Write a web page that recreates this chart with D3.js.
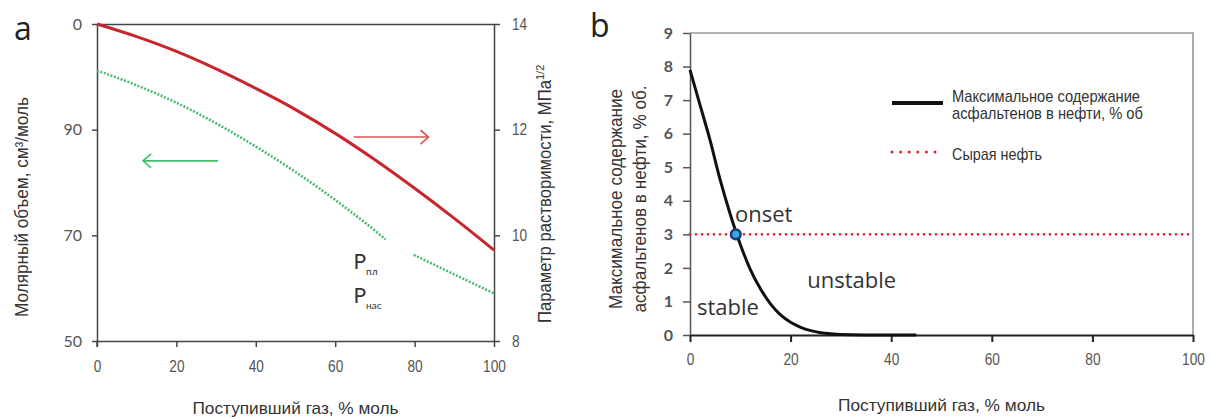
<!DOCTYPE html>
<html>
<head>
<meta charset="utf-8">
<script src="https://cdn.jsdelivr.net/npm/d3@7"></script>
<style>
  html, body { margin: 0; padding: 0; background: #fff; }
  svg { display: block; }
  .narrow { font-family: "Liberation Sans Narrow", "Arial Narrow", "Liberation Sans", sans-serif; }
  .tick text { fill: #555; }
</style>
</head>
<body>
<script>
// ---- panel a: molar volume and solubility parameter vs injected gas ----
const gasA = [0, 10, 20, 30, 40, 50, 60, 70, 80, 90, 100];
const solubilityParam = [14.0, 13.76, 13.48, 13.15, 12.78, 12.38, 11.93, 11.43, 10.89, 10.32, 9.72];

// molar volume is drawn in two pieces (gap between ~73 and ~80 % mol)
const gasMolar = [0, 10, 20, 30, 40, 50, 60, 70, 72.7, 76, 79.8, 90, 100];
const molarVolume = [101.2, 98.4, 95.1, 91.2, 86.8, 82.0, 76.7, 70.9, 69.25, null, 66.3, 62.6, 59.0];

const xTicksA = [0, 20, 40, 60, 80, 100];
const leftTicksA = [50, 70, 90, 110];
const leftTickLabelsA = ["50", "70", "90", "0"];
const rightTicksA = [8, 10, 12, 14];

// ---- panel b: maximum asphaltene content vs injected gas ----
const gasB = [0, 2, 4, 6, 8, 10, 12, 14, 16, 18, 20, 22, 24, 26, 28, 30, 35, 40, 45];
const maxAsphaltene = [7.9, 6.85, 5.8, 4.62, 3.6, 2.7, 1.95, 1.38, 0.93, 0.6, 0.38, 0.23, 0.13, 0.07, 0.035, 0.015, 0.003, 0, 0];
const crudeOilGas = [0, 100];
const crudeOilContent = [3, 3];
const onsetGas = 9.1;
const onsetContent = 3;

const xTicksB = [0, 20, 40, 60, 80, 100];
const yTicksB = [0, 1, 2, 3, 4, 5, 6, 7, 8, 9];

const W = 1211, H = 418;
const svg = d3.select("body").append("svg").attr("width", W).attr("height", H);

const axisColor = "#444";
function styleAxis(g, color, width) {
  g.selectAll(".domain").attr("stroke", color).attr("stroke-width", width);
  g.selectAll(".tick line").attr("stroke", color).attr("stroke-width", width);
}
// condensed digits for tick labels
function condense(sel, perChar) {
  sel.each(function () {
    const n = this.textContent.length;
    d3.select(this).attr("textLength", n * perChar).attr("lengthAdjust", "spacingAndGlyphs");
  });
}

// ================= panel a =================
const xA = d3.scaleLinear([0, 100], [97, 494]);
const yL = d3.scaleLinear([50, 110], [341, 24]);
const yR = d3.scaleLinear([8, 14], [341, 24]);

// frame top
svg.append("g").attr("transform", `translate(0,${yL(110)})`)
  .call(d3.axisTop(xA).tickValues([]).tickSizeOuter(0))
  .call(g => styleAxis(g, axisColor, 1.5));

const gxA = svg.append("g").attr("transform", `translate(0,${yL(50)})`)
  .call(d3.axisBottom(xA).tickValues(xTicksA).tickSize(6).tickSizeOuter(0).tickPadding(14))
  .call(g => styleAxis(g, axisColor, 1.5));
gxA.selectAll("text").attr("class", "narrow").style("font-size", "16px").call(condense, 7.6);

const gyL = svg.append("g").attr("transform", `translate(${xA(0)},0)`)
  .call(d3.axisLeft(yL).tickValues(leftTicksA).tickSize(5).tickSizeOuter(0).tickPadding(10)
    .tickFormat((d, i) => leftTickLabelsA[i]))
  .call(g => styleAxis(g, axisColor, 1.5));
gyL.selectAll("text").style("font-family", "Lato, sans-serif").style("font-size", "16px");

const gyR = svg.append("g").attr("transform", `translate(${xA(100)},0)`)
  .call(d3.axisRight(yR).tickValues(rightTicksA).tickSize(6).tickSizeOuter(0).tickPadding(12)
    .tickFormat(d3.format("d")))
  .call(g => styleAxis(g, axisColor, 1.5));
gyR.selectAll("text").attr("class", "narrow").style("font-size", "16px").call(condense, 7.6);

// left axis extends slightly below the bottom axis at x = 0
svg.append("line")
  .attr("x1", xA(0)).attr("x2", xA(0)).attr("y1", yL(50)).attr("y2", yL(50) + 6)
  .attr("stroke", axisColor).attr("stroke-width", 1.5);

// solubility parameter (right axis)
svg.append("path")
  .datum(gasA.map((g, i) => [g, solubilityParam[i]]))
  .attr("fill", "none").attr("stroke", "#c9252c").attr("stroke-width", 3)
  .attr("d", d3.line().x(d => xA(d[0])).y(d => yR(d[1])).curve(d3.curveMonotoneX));

// molar volume (left axis), dotted green
svg.append("path")
  .datum(gasMolar.map((g, i) => [g, molarVolume[i]]))
  .attr("fill", "none").attr("stroke", "#4cbb70").attr("stroke-width", 2.6)
  .attr("stroke-dasharray", "2,1.6")
  .attr("d", d3.line().defined(d => d[1] != null)
    .x(d => xA(d[0])).y(d => yL(d[1])).curve(d3.curveMonotoneX));

// arrows pointing to the matching axis
function arrow(x1, x2, y, color) {
  const dir = Math.sign(x2 - x1);
  svg.append("line").attr("x1", x1).attr("x2", x2).attr("y1", y).attr("y2", y)
    .attr("stroke", color).attr("stroke-width", 1.6);
  svg.append("path")
    .attr("d", `M${x2 - dir * 8},${y - 7} L${x2},${y} L${x2 - dir * 8},${y + 7}`)
    .attr("fill", "none").attr("stroke", color).attr("stroke-width", 1.6);
}
arrow(xA(64.7), xA(83.5), yR(11.86), "#d9534f");
arrow(xA(30.5), xA(11.6), yL(84.1), "#3fbf6a");

// P labels
const pLabels = [{ sub: "пл", v: 63.6 }, { sub: "нас", v: 57.2 }];
pLabels.forEach(p => {
  const t = svg.append("text").attr("x", xA(64.6)).attr("y", yL(p.v))
    .style("font-family", "Lato, sans-serif").style("font-size", "21px").attr("fill", "#333");
  t.append("tspan").text("P");
  t.append("tspan").attr("dy", 6).style("font-size", "10px").text(p.sub);
});

// axis titles
svg.append("text").attr("class", "narrow")
  .attr("transform", `translate(28,207) rotate(-90)`)
  .attr("text-anchor", "middle").attr("fill", "#333").style("font-size", "18px")
  .attr("textLength", 220).attr("lengthAdjust", "spacingAndGlyphs")
  .text("Молярный объем, см³/моль");

const rt = svg.append("text").attr("class", "narrow")
  .attr("transform", `translate(551,323) rotate(-90)`)
  .attr("fill", "#333").style("font-size", "18px");
rt.append("tspan").attr("textLength", 243).attr("lengthAdjust", "spacingAndGlyphs")
  .text("Параметр растворимости, МПа");
rt.append("tspan").attr("dy", -7).style("font-size", "11px").text("1/2");

svg.append("text").attr("class", "narrow")
  .attr("x", xA(50)).attr("y", 414).attr("text-anchor", "middle")
  .attr("fill", "#333").style("font-size", "17px")
  .attr("textLength", 206).attr("lengthAdjust", "spacingAndGlyphs")
  .text("Поступивший газ, % моль");

svg.append("text").attr("x", 14).attr("y", 40)
  .style("font-family", "'Open Sans', sans-serif").style("font-size", "32px").attr("fill", "#222")
  .text("a");

// ================= panel b =================
const xB = d3.scaleLinear([0, 100], [690, 1193]);
const yB = d3.scaleLinear([0, 9], [335, 33]);

// light frame top/right
svg.append("path")
  .attr("d", `M${xB(0)},${yB(9)} H${xB(100)} V${yB(0)}`)
  .attr("fill", "none").attr("stroke", "#999").attr("stroke-width", 1.6);

const gyB = svg.append("g").attr("transform", `translate(${xB(0)},0)`)
  .call(d3.axisLeft(yB).tickValues(yTicksB).tickSize(7).tickSizeOuter(0).tickPadding(10).tickFormat(d3.format("d")))
  .call(g => styleAxis(g, "#555", 1.5));
gyB.selectAll("text").style("font-family", "Lato, sans-serif").style("font-size", "16px").style("font-weight", "bold").attr("fill", "#555");

const gxB = svg.append("g").attr("transform", `translate(0,${yB(0)})`)
  .call(d3.axisBottom(xB).tickValues(xTicksB).tickSize(7).tickSizeOuter(0).tickPadding(12))
  .call(g => styleAxis(g, "#222", 2));
gxB.selectAll("text").attr("class", "narrow").style("font-size", "16px").call(condense, 7.6);

// crude oil level, red dotted
svg.append("path")
  .datum(crudeOilGas.map((g, i) => [g, crudeOilContent[i]]))
  .attr("fill", "none").attr("stroke", "#d7262f").attr("stroke-width", 2.8)
  .attr("stroke-linecap", "round").attr("stroke-dasharray", "0,6")
  .attr("d", d3.line().x(d => xB(d[0])).y(d => yB(d[1])));

// maximum asphaltene content curve
svg.append("path")
  .datum(gasB.map((g, i) => [g, maxAsphaltene[i]]))
  .attr("fill", "none").attr("stroke", "#111").attr("stroke-width", 3)
  .attr("d", d3.line().x(d => xB(d[0])).y(d => yB(d[1])).curve(d3.curveMonotoneX));

// onset point
svg.append("circle").attr("cx", xB(onsetGas)).attr("cy", yB(onsetContent)).attr("r", 4.8)
  .attr("fill", "#36a9e0").attr("stroke", "#1d3a7c").attr("stroke-width", 2.6);

const regionLabels = [
  { t: "onset", x: 8.95, y: 3.38 },
  { t: "stable", x: 1.4, y: 0.6 },
  { t: "unstable", x: 23.3, y: 1.39 }
];
svg.selectAll("text.region").data(regionLabels).join("text")
  .attr("class", "region")
  .attr("x", d => xB(d.x)).attr("y", d => yB(d.y))
  .style("font-family", "'Open Sans', sans-serif").style("font-size", "22px").attr("fill", "#333")
  .text(d => d.t);

// legend
svg.append("line").attr("x1", 892).attr("x2", 943).attr("y1", 103).attr("y2", 103)
  .attr("stroke", "#111").attr("stroke-width", 4);
svg.append("line").attr("x1", 892).attr("x2", 937).attr("y1", 152).attr("y2", 152)
  .attr("stroke", "#d7262f").attr("stroke-width", 3).attr("stroke-linecap", "round")
  .attr("stroke-dasharray", "0,8.6");
const legendText = [
  { t: "Максимальное содержание", y: 102, w: 188 },
  { t: "асфальтенов в нефти, % об", y: 119, w: 191 },
  { t: "Сырая нефть", y: 160, w: 90 }
];
svg.selectAll("text.legend").data(legendText).join("text")
  .attr("class", "legend narrow")
  .attr("x", 952).attr("y", d => d.y).attr("fill", "#333").style("font-size", "17px")
  .attr("textLength", d => d.w).attr("lengthAdjust", "spacingAndGlyphs")
  .text(d => d.t);

// y title, two lines
const yTitleB = [
  { t: "Максимальное содержание", x: 622, w: 220 },
  { t: "асфальтенов в нефти, % об.", x: 646, w: 227 }
];
svg.selectAll("text.ytitle").data(yTitleB).join("text")
  .attr("class", "ytitle narrow")
  .attr("transform", d => `translate(${d.x},199) rotate(-90)`)
  .attr("text-anchor", "middle").attr("fill", "#333").style("font-size", "18px")
  .attr("textLength", d => d.w).attr("lengthAdjust", "spacingAndGlyphs")
  .text(d => d.t);

svg.append("text").attr("class", "narrow")
  .attr("x", xB(50)).attr("y", 411).attr("text-anchor", "middle")
  .attr("fill", "#333").style("font-size", "17px")
  .attr("textLength", 207).attr("lengthAdjust", "spacingAndGlyphs")
  .text("Поступивший газ, % моль");

svg.append("text").attr("x", 590).attr("y", 37)
  .style("font-family", "'Open Sans', sans-serif").style("font-size", "32px").attr("fill", "#222")
  .text("b");
</script>
</body>
</html>
